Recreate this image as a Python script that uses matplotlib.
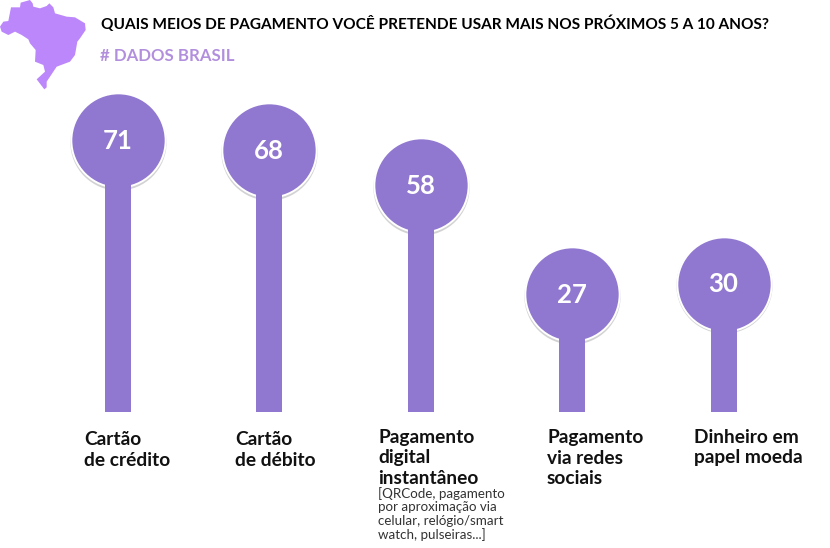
import matplotlib
matplotlib.use("Agg")
import matplotlib.pyplot as plt
from matplotlib.patches import Polygon

categories = ["Cartão\nde crédito", "Cartão\nde débito", "Pagamento\ndigital\ninstantâneo", "Pagamento\nvia redes\nsociais", "Dinheiro em\npapel moeda"]
values = [71, 68, 58, 27, 30]
title = "QUAIS MEIOS DE PAGAMENTO VOCÊ PRETENDE USAR MAIS NOS PRÓXIMOS 5 A 10 ANOS?"
subtitle = "# DADOS BRASIL"
note = "[QRCode, pagamento\npor aproximação via\ncelular, relógio/smart\nwatch, pulseiras...]"
brazil_zoom = [(0,80),(10,65),(25,63),(33,22),(60,22),(62,8),(90,0),(98,10),(100,20),(120,25),(140,18),(148,10),(160,22),(165,40),(200,50),(225,52),(255,70),(257,90),(240,115),(232,125),(225,165),(210,185),(170,200),(160,215),(140,245),(140,262),(133,268),(110,238),(135,215),(130,195),(105,185),(107,150),(90,130),(85,118),(65,105),(45,95),(25,105),(5,95)]

W, H = 830, 548
PURPLE = "#9077CF"
px_per_unit = 3.5
y71 = 140
base_px = 412
baseline = 71 - (base_px - y71) / px_per_unit

fig = plt.figure(figsize=(W/100, H/100), dpi=100)
ax = fig.add_axes([0, 0, 1, 1])
ax.set_xlim(0, W)
ax.set_ylim(71 - (H - y71) / px_per_unit, 71 + y71 / px_per_unit)
ax.axis("off")

xs = [117.5 + 151.5 * i for i in range(len(values))]
ax.scatter(xs, [v - 0.55 for v in values], s=4800, color="#c0c0c0", alpha=0.7, linewidths=0, zorder=1)
ax.scatter(xs, values, s=4800, color="white", linewidths=0, zorder=2)
ax.bar(xs, [v - baseline for v in values], bottom=baseline, width=26, color=PURPLE, zorder=3)
ax.scatter(xs, values, s=4420, color=PURPLE, linewidths=0, zorder=4)

FONT = ["Lato", "DejaVu Sans"]
for x, v in zip(xs, values):
    ax.text(x, v - 0.2, str(v), color="white", fontsize=18.5, fontweight="bold", ha="center", va="center", family=FONT, zorder=5)

label_x = [84, 235, 378, 547, 694]
label_y = [431, 431, 429, 429, 429]
for x, y, c in zip(label_x, label_y, categories):
    fig.text(x / W, 1 - y / H, c, fontsize=13.8, fontweight="bold", color="#111111", va="top", ha="left", family=FONT, linespacing=1.25)
fig.text(378 / W, 1 - 487 / H, note, fontsize=9.6, color="#333333", va="top", ha="left", family=FONT, linespacing=1.13)

fig.text(101 / W, 1 - 24 / H, title, fontsize=11.08, fontweight="bold", color="black", va="center", ha="left", family=FONT)
fig.text(100 / W, 1 - 56 / H, subtitle, fontsize=12.1, fontweight="bold", color="#B18FDD", va="center", ha="left", family=FONT)

fig.add_artist(Polygon([(x / 3 / W, 1 - y / 3 / H) for x, y in brazil_zoom], closed=True, facecolor="#BC87FB", edgecolor="none", transform=fig.transFigure))
fig.savefig("out.png", dpi=100)
